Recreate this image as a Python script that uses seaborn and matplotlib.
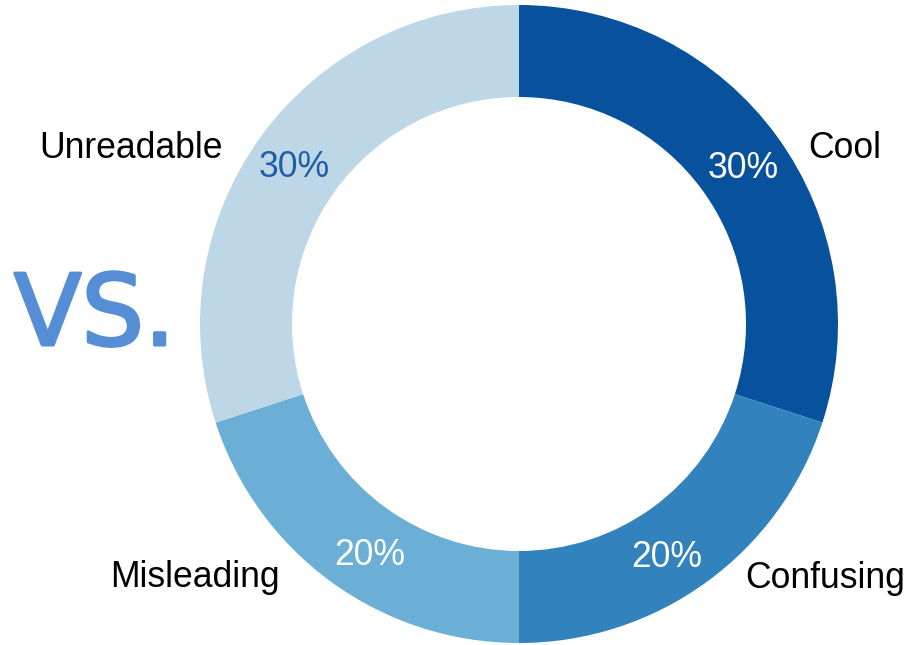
import matplotlib
matplotlib.use("Agg")
import matplotlib.pyplot as plt
import matplotlib.patheffects as pe
import seaborn as sns

# Survey shares for each reaction
categories = ["Cool", "Confusing", "Misleading", "Unreadable"]
shares = [30, 20, 20, 30]
ring_colors = ["#08519c", "#3182bd", "#6baed6", "#bdd7e7"]
pct_colors = ["white", "white", "white", "#1f5fa6"]

sns.set_theme(style="white")
plt.rcParams["font.family"] = ["Liberation Sans", "DejaVu Sans"]

W, H = 921, 645
fig = plt.figure(figsize=(W / 100, H / 100), dpi=100)
ax = fig.add_axes([0, 0, 1, 1])

cx, cy, r_out = 519, H - 324, 319
ax.pie(shares, colors=ring_colors, startangle=90, counterclock=False,
       center=(cx, cy), radius=r_out,
       wedgeprops=dict(width=92, linewidth=0, antialiased=True))

# Category names around the ring (x, baseline y in pixels from top, alignment)
name_pos = {
    "Cool": (808, 158, "left"),
    "Confusing": (745, 588, "left"),
    "Misleading": (280, 587, "right"),
    "Unreadable": (223, 158, "right"),
}
# Percentage labels inside the ring (centre x, baseline y)
pct_pos = {
    "Cool": (743, 178),
    "Confusing": (667, 567),
    "Misleading": (370, 565),
    "Unreadable": (294, 177),
}

for cat, val, pc in zip(categories, shares, pct_colors):
    x, y, ha = name_pos[cat]
    ax.text(x, H - y, cat, ha=ha, va="baseline", fontsize=25.6, color="black")
    px, py = pct_pos[cat]
    ax.text(px, H - py, f"{val}%", ha="center", va="baseline", fontsize=25.6, color=pc)

vs_color = "#568ed6"
ax.text(14, H - 345, "VS.", ha="left", va="baseline", fontsize=71,
        color=vs_color, family=["DejaVu Sans"],
        path_effects=[pe.Stroke(linewidth=2.2, foreground=vs_color), pe.Normal()])

ax.set_xlim(0, W)
ax.set_ylim(0, H)
ax.set_aspect("equal")
ax.axis("off")

fig.savefig("out.png", dpi=100, facecolor="white")
